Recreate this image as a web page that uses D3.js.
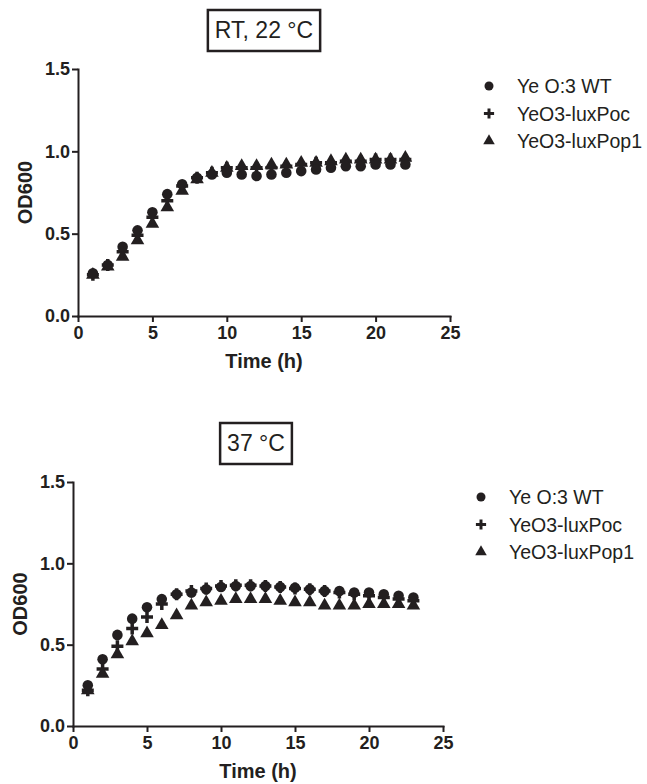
<!DOCTYPE html>
<meta charset="utf-8">
<style>
body { margin: 0; background: #fff; }
svg text { font-family: Arial, "Liberation Sans", sans-serif; fill: #231f20; }
.axis path, .axis line { stroke: #231f20; stroke-width: 2px; }
.axis text { font-size: 18px; font-weight: bold; }
.ttl { font-size: 20px; font-weight: bold; }
.leg { font-size: 19.5px; }
.box { fill: none; stroke: #231f20; stroke-width: 2.5px; }
</style>
<svg id="chart" width="647" height="784"></svg>
<script src="https://cdn.jsdelivr.net/npm/d3@7"></script>
<script>
var seriesNames = ["Ye O:3 WT", "YeO3-luxPoc", "YeO3-luxPop1"];
var xTicks = [0, 5, 10, 15, 20, 25];
var yTicks = [0.0, 0.5, 1.0, 1.5];

// RT, 22 C
var rtHours = [1,2,3,4,5,6,7,8,9,10,11,12,13,14,15,16,17,18,19,20,21,22];
var rtWT   = [0.26,0.31,0.42,0.52,0.63,0.74,0.80,0.84,0.86,0.87,0.86,0.85,0.86,0.87,0.88,0.89,0.90,0.91,0.91,0.92,0.92,0.92];
var rtPoc  = [0.25,0.31,0.39,0.49,0.60,0.70,0.79,0.84,0.87,0.90,0.90,0.90,0.90,0.91,0.92,0.93,0.93,0.94,0.94,0.95,0.95,0.95];
var rtPop1 = [0.25,0.30,0.36,0.46,0.56,0.66,0.76,0.83,0.87,0.90,0.91,0.91,0.92,0.92,0.93,0.93,0.94,0.95,0.95,0.95,0.95,0.96];

// 37 C
var h37Hours = [1,2,3,4,5,6,7,8,9,10,11,12,13,14,15,16,17,18,19,20,21,22,23];
var h37WT   = [0.25,0.41,0.56,0.66,0.73,0.78,0.81,0.82,0.84,0.855,0.86,0.86,0.86,0.855,0.85,0.84,0.83,0.83,0.82,0.82,0.81,0.80,0.79];
var h37Poc  = [0.22,0.35,0.49,0.60,0.67,0.75,0.81,0.83,0.845,0.86,0.865,0.865,0.86,0.855,0.845,0.84,0.83,0.82,0.81,0.80,0.79,0.78,0.77];
var h37Pop1 = [0.22,0.32,0.44,0.52,0.57,0.62,0.68,0.74,0.76,0.77,0.78,0.78,0.78,0.77,0.76,0.76,0.74,0.74,0.74,0.75,0.75,0.75,0.74];

var ink = "#231f20";
var svg = d3.select("#chart");

function marker(g, kind, s) {
  if (kind == 0) {
    g.append("path").attr("d", d3.symbol(d3.symbolCircle, 88 * s * s)()).attr("fill", ink);
  } else if (kind == 1) {
    var a = 6 * s;
    g.append("path").attr("d", "M" + (-a) + ",0H" + a + "M0," + (-a) + "V" + a)
      .attr("stroke", ink).attr("stroke-width", 3.5 * s).attr("fill", "none");
  } else {
    g.append("path").attr("d", d3.symbol(d3.symbolTriangle, 80 * s * s)()).attr("fill", ink);
  }
}

function panel(p) {
  var x = d3.scaleLinear().domain([0, 25]).range([p.left, p.right]);
  var y = d3.scaleLinear().domain([0, 1.5]).range([p.bottom, p.top]);
  var g = svg.append("g");

  g.append("g").attr("class", "axis")
    .attr("transform", "translate(0," + p.bottom + ")")
    .call(d3.axisBottom(x).tickValues(xTicks).tickSize(6).tickPadding(3).tickSizeOuter(0))
    .call(function(a) { a.selectAll("text").attr("dy", "0.8em"); });
  g.append("g").attr("class", "axis")
    .attr("transform", "translate(" + p.left + ",0)")
    .call(d3.axisLeft(y).tickValues(yTicks).tickFormat(d3.format(".1f")).tickSize(6).tickPadding(2).tickSizeOuter(0));
  g.selectAll(".domain").attr("stroke-linecap", "square");

  g.append("text").attr("class", "ttl").attr("text-anchor", "middle")
    .attr("x", (p.left + p.right) / 2).attr("y", p.bottom + 52).text("Time (h)");
  g.append("text").attr("class", "ttl").attr("text-anchor", "middle")
    .attr("transform", "translate(" + (p.left - 46) + "," + ((p.top + p.bottom) / 2) + ") rotate(-90)")
    .text("OD600");

  // boxed title
  var tg = g.append("g");
  var box = tg.append("rect").attr("class", "box");
  var t = tg.append("text").attr("text-anchor", "middle").attr("font-size", 23)
    .attr("x", p.boxX).attr("y", p.boxY + 8).text(p.title);
  var bb = t.node().getBBox();
  box.attr("x", bb.x - 7).attr("y", p.boxY - 20).attr("width", bb.width + 14).attr("height", 41);

  // points, drawn back to front: triangles, plus, circles
  [2, 1, 0].forEach(function(k) {
    var vals = p.series[k];
    p.hours.forEach(function(h, i) {
      var m = g.append("g").attr("transform", "translate(" + x(h) + "," + y(vals[i]) + ")");
      marker(m, k, 1);
    });
  });

  // legend
  seriesNames.forEach(function(name, k) {
    var ly = p.legY + k * p.legStep;
    var m = g.append("g").attr("transform", "translate(" + p.legX + "," + ly + ")");
    marker(m, k, 0.85);
    g.append("text").attr("class", "leg").attr("x", p.legX + 28).attr("y", ly + 7).text(name);
  });
}

panel({
  title: "RT, 22 \u00b0C", boxX: 264, boxY: 30,
  left: 78, right: 450, top: 69, bottom: 316,
  hours: rtHours, series: [rtWT, rtPoc, rtPop1],
  legX: 489, legY: 86, legStep: 27.5
});
panel({
  title: "37 \u00b0C", boxX: 256, boxY: 443,
  left: 73, right: 443, top: 482, bottom: 726,
  hours: h37Hours, series: [h37WT, h37Poc, h37Pop1],
  legX: 481, legY: 497, legStep: 27.5
});
</script>
